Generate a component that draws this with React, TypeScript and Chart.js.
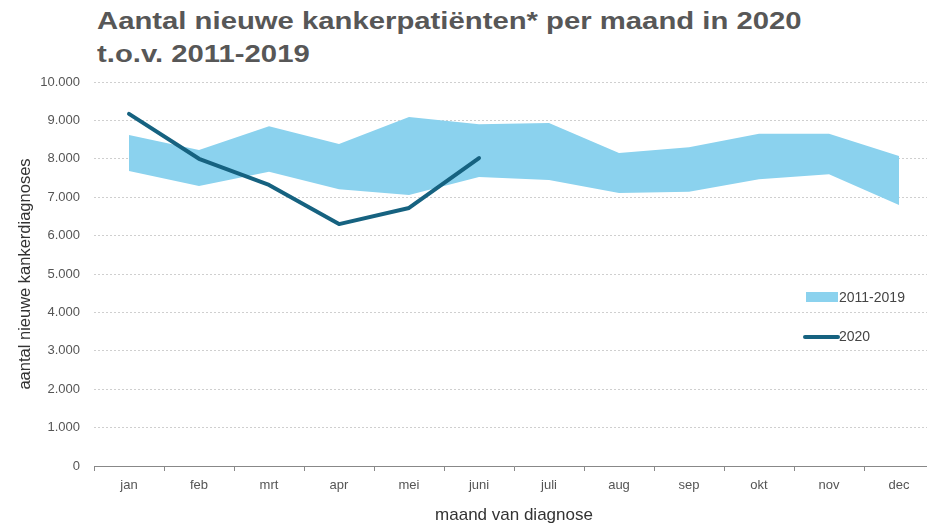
import React, { useEffect, useRef } from "react";
import { Chart, registerables } from "chart.js";

Chart.register(...registerables);

const months = ["jan", "feb", "mrt", "apr", "mei", "juni", "juli", "aug", "sep", "okt", "nov", "dec"];
const bandLow = [7680, 7290, 7660, 7210, 7060, 7525, 7450, 7110, 7140, 7470, 7600, 6800];
const bandHigh = [8620, 8230, 8850, 8385, 9090, 8900, 8930, 8150, 8300, 8650, 8650, 8070];
const values2020 = [9170, 8000, 7320, 6300, 6720, 8020, null, null, null, null, null, null];
const yTicks = [0, 1000, 2000, 3000, 4000, 5000, 6000, 7000, 8000, 9000, 10000];

const BAND = "rgb(139, 210, 238)";
const LINE = "rgb(22, 98, 128)";
const FONT = "'Liberation Sans', Arial, sans-serif";

const legendPlugin = {
  id: "customLegend",
  afterDraw(chart: any) {
    const ctx = chart.ctx;
    const ca = chart.chartArea;
    const x0 = ca.right - 131;
    ctx.save();
    ctx.fillStyle = BAND;
    ctx.fillRect(x0 + 3, 292, 32, 10);
    ctx.strokeStyle = LINE;
    ctx.lineWidth = 4;
    ctx.lineCap = "round";
    ctx.beginPath();
    ctx.moveTo(x0 + 2, 337);
    ctx.lineTo(x0 + 35, 337);
    ctx.stroke();
    ctx.fillStyle = "#444";
    ctx.font = `14px ${FONT}`;
    ctx.textBaseline = "middle";
    ctx.fillText("2011-2019", x0 + 36, 298);
    ctx.fillText("2020", x0 + 36, 337);
    ctx.restore();
  },
};

export default function App() {
  const ref = useRef<HTMLCanvasElement>(null);
  useEffect(() => {
    const chart = new Chart(ref.current as HTMLCanvasElement, {
      type: "line",
      data: {
        labels: months,
        datasets: [
          {
            label: "low",
            data: bandLow,
            borderColor: "rgba(0,0,0,0)",
            borderWidth: 0,
            pointRadius: 0,
            fill: false,
            tension: 0,
            order: 1,
          },
          {
            label: "2011-2019",
            data: bandHigh,
            borderColor: "rgba(0,0,0,0)",
            borderWidth: 0,
            backgroundColor: BAND,
            pointRadius: 0,
            fill: "-1",
            tension: 0,
            order: 1,
          },
          {
            label: "2020",
            data: values2020,
            borderColor: LINE,
            borderWidth: 4,
            pointRadius: 0,
            fill: false,
            tension: 0,
            borderCapStyle: "round",
            borderJoinStyle: "round",
            order: 0,
          },
        ],
      },
      options: {
        animation: false,
        responsive: false,
        layout: { padding: { top: 82, right: 2, left: 16, bottom: 4 } },
        plugins: {
          legend: { display: false },
          tooltip: { enabled: false },
          title: { display: false },
        },
        scales: {
          x: {
            offset: true,
            grid: {
              offset: true,
              drawOnChartArea: false,
              drawTicks: true,
              tickLength: 5,
              color: "#888",
            },
            border: { display: true, color: "#888", width: 1 },
            ticks: { color: "#555", font: { family: FONT, size: 13 }, padding: 7 },
            title: {
              display: true,
              text: "maand van diagnose",
              color: "#333",
              font: { family: FONT, size: 17 },
              padding: { top: 5, bottom: 0 },
            },
          },
          y: {
            min: 0,
            max: 10000,
            afterBuildTicks: (s: any) => {
              s.ticks = yTicks.map((v) => ({ value: v }));
            },
            afterFit: (s: any) => {
              s.width = 78;
            },
            grid: {
              color: "#cfcfcf",
              drawTicks: false,
              lineWidth: 1,
            },
            border: { display: false, dash: [2, 2] },
            ticks: {
              color: "#555",
              font: { family: FONT, size: 13 },
              padding: 14,
              callback: (v: any) => Number(v).toLocaleString("nl-NL"),
            },
            title: {
              display: true,
              text: "aantal nieuwe kankerdiagnoses",
              color: "#333",
              font: { family: FONT, size: 16.5 },
              padding: { top: 0, bottom: 4 },
            },
          },
        },
      },
      plugins: [legendPlugin],
    });
    return () => chart.destroy();
  }, []);

  return (
    <div
      style={{
        position: "fixed",
        left: 0,
        top: 0,
        width: 927,
        height: 530,
        overflow: "hidden",
        background: "#fff",
      }}
    >
      <div
        style={{
          position: "absolute",
          left: 97,
          top: 4,
          fontFamily: FONT,
          fontWeight: "bold",
          fontSize: 24,
          lineHeight: "33px",
          color: "#575757",
          whiteSpace: "nowrap",
          transform: "scaleX(1.22)",
          transformOrigin: "left top",
        }}
      >
        Aantal nieuwe kankerpatiënten* per maand in 2020
        <br />
        t.o.v. 2011-2019
      </div>
      <canvas
        ref={ref}
        width={936}
        height={530}
        style={{ position: "absolute", left: 0, top: 0, width: 936, height: 530 }}
      />
    </div>
  );
}
